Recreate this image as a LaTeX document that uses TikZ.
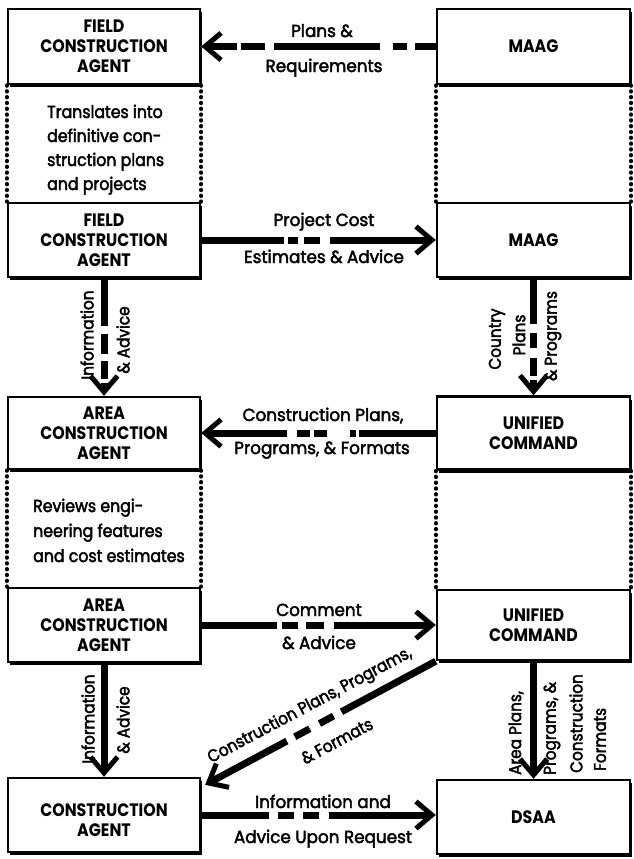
\documentclass[tikz,border=0pt]{standalone}
\usepackage{fontspec}
\setmainfont{Poppins}[FakeStretch=0.86]
\newfontfamily\boxfont{Poppins}[FakeStretch=0.88]
\newfontfamily\labfont{Poppins}[FakeStretch=0.96,FakeBold=2.5]
\newfontfamily\rotfont{Poppins}[FakeStretch=0.9,FakeBold=2.5]
\newfontfamily\notefont{Poppins}[FakeStretch=0.9,FakeBold=2.5]
\usetikzlibrary{arrows.meta,calc,shadows}
\tikzset{
  box/.style={draw, line width=2.4pt, fill=white, align=center, inner sep=0pt,
    font=\fontsize{18}{20}\boxfont\bfseries, minimum width=192pt,
    drop shadow={shadow xshift=2pt, shadow yshift=-3pt, opacity=1, fill=black}},
  rbox/.style={box, minimum width=193pt},
  lab/.style={inner sep=0pt, font=\fontsize{17.5}{20}\labfont},
  rlab/.style={inner sep=0pt, font=\fontsize{17}{20}\rotfont},
  note/.style={inner sep=0pt, anchor=base west, font=\fontsize{17.5}{20}\notefont},
  flow/.style={line width=7pt, -{Straight Barb[length=16pt,width=27pt,line width=5pt]}},
  dots/.style={line width=3.6pt, line cap=round, dash pattern=on 0.8pt off 5pt},
}
\begin{document}
\begin{tikzpicture}[x=1pt,y=-1pt]
\useasboundingbox (0,0) rectangle (633,859);
% boxes
\node[box, minimum height=75pt] (fca1) at (104,46.5) {FIELD\\CONSTRUCTION\\AGENT};
\node[rbox, minimum height=75pt] (maag1) at (533.5,46.5) {MAAG};
\node[box, minimum height=74pt] (fca2) at (104,240) {FIELD\\CONSTRUCTION\\AGENT};
\node[rbox, minimum height=74pt] (maag2) at (533.5,240) {MAAG};
\node[box, minimum height=72pt] (aca1) at (104,433) {AREA\\CONSTRUCTION\\AGENT};
\node[rbox, minimum height=73pt] (uc1) at (533.5,433) {UNIFIED\\COMMAND};
\node[box, minimum height=74pt] (aca2) at (104,625) {AREA\\CONSTRUCTION\\AGENT};
\node[rbox, minimum height=70pt] (uc2) at (533.5,625) {UNIFIED\\COMMAND};
\node[box, minimum height=74pt] (ca) at (104,815) {\rule{0pt}{24pt}CONSTRUCTION\\AGENT};
\node[rbox, minimum height=74pt] (dsaa) at (533.5,817) {DSAA};
% dotted sides
\draw[dots] (fca1.south west) -- (fca2.north west);
\draw[dots] (fca1.south east) -- (fca2.north east);
\draw[dots] (maag1.south west) -- (maag2.north west);
\draw[dots] (maag1.south east) -- (maag2.north east);
\draw[dots] (aca1.south west) -- (aca2.north west);
\draw[dots] (aca1.south east) -- (aca2.north east);
\draw[dots] (uc1.south west) -- (uc2.north west);
\draw[dots] (uc1.south east) -- (uc2.north east);
% notes
\node[note] (n1) at (47,118) {Translates into};
\node[note] (n2) at (47,142) {definitive con-};
\node[note] (n3) at (47,166) {struction plans};
\node[note] (n4) at (47,190) {and projects};
\node[note] (n5) at (33,512) {Reviews engi-};
\node[note] (n6) at (33,537) {neering features};
\node[note] (n7) at (33,562) {and cost estimates};
% connectors
\draw[flow, dash pattern=on 21pt off 8pt on 14pt off 13pt on 106pt off 9pt on 24pt off 4pt on 200pt off 0pt] (maag1.west) -- (fca1.east);
\draw[flow, dash pattern=on 83pt off 4pt on 10pt off 6pt on 16pt off 10pt on 200pt off 0pt] (fca2.east) -- (maag2.west);
\draw[flow, dash pattern=on 48pt off 8pt on 20pt off 7pt on 18pt off 4pt on 100pt off 0pt] (fca2.south) -- (aca1.north);
\draw[flow, dash pattern=on 46pt off 9pt on 15pt off 10pt on 18pt off 4pt on 100pt off 0pt] (maag2.south) -- (uc1.north);
\draw[flow, dash pattern=on 77pt off 3pt on 6pt off 23pt on 13pt off 4pt on 13pt off 10pt on 200pt off 0pt] (uc1.west) -- (uc1.west -| aca1.east);
\draw[flow, dash pattern=on 76pt off 5pt on 16pt off 8pt on 18pt off 10pt on 200pt off 0pt] (aca2.east) -- (uc2.west);
\draw[flow] (aca2.south) -- (ca.north);
\draw[flow, dash pattern=on 107pt off 9pt on 16pt off 11pt on 17pt off 9pt on 200pt off 0pt] (uc2.south west) -- ($(ca.north east)+(4,8)$);
\draw[flow] (uc2.south) -- (dsaa.north);
\draw[flow, dash pattern=on 68pt off 9pt on 16pt off 9pt on 16pt off 10pt on 200pt off 0pt] (ca.east) -- (ca.east -| dsaa.west);
% labels
\node[lab, anchor=base] (l1a) at (322,37) {Plans \&};
\node[lab, anchor=base] (l1b) at (324,72) {Requirements};
\node[lab, anchor=base] (l2a) at (324,226) {Project Cost};
\node[lab, anchor=base] (l2b) at (324,263) {Estimates \& Advice};
\node[lab, anchor=base] (l5a) at (323,421) {Construction Plans,};
\node[lab, anchor=base] (l5b) at (322,454) {Programs, \& Formats};
\node[lab, anchor=base] (l6a) at (319,616) {Comment};
\node[lab, anchor=base] (l6b) at (319,649) {\& Advice};
\node[lab, anchor=base] (l10a) at (323,808) {Information and};
\node[lab, anchor=base] (l10b) at (323,843) {Advice Upon Request};
\node[rlab, rotate=90] (l3a) at (87,335) {Information};
\node[rlab, rotate=90] (l3b) at (123,340) {\& Advice};
\node[rlab, rotate=90] (l4a) at (497,339) {Country};
\node[rlab, rotate=90] (l4b) at (519,335) {Plans};
\node[rlab, rotate=90] (l4c) at (553,336) {\& Programs};
\node[rlab, rotate=90] (l7a) at (88,719) {Information};
\node[rlab, rotate=90] (l7b) at (123,720) {\& Advice};
\node[rlab, rotate=90, anchor=west] (l9a) at (516,775) {Area Plans,};
\node[rlab, rotate=90, anchor=west] (l9b) at (552,775) {Programs, \&};
\node[rlab, rotate=90, anchor=west] (l9c) at (576,773) {Construction};
\node[rlab, rotate=90, anchor=west] (l9d) at (600,771) {Formats};
\node[rlab, rotate=28] (l8a) at (310,706) {Construction Plans, Programs,};
\node[rlab, rotate=28] (l8b) at (337,741) {\& Formats};
\end{tikzpicture}
\end{document}
